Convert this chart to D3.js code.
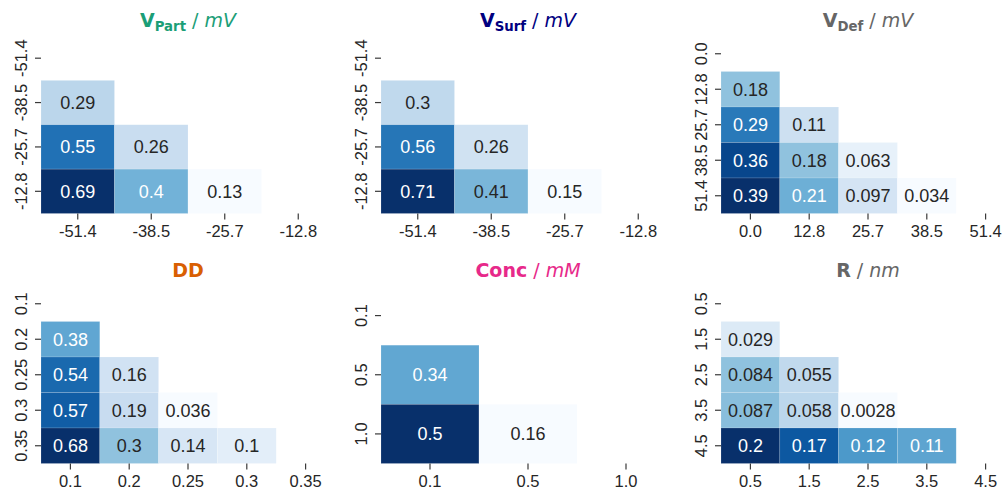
<!DOCTYPE html>
<html>
<head>
<meta charset="utf-8">
<script src="https://cdn.jsdelivr.net/npm/d3@7"></script>
<style>
  body { margin: 0; background: #fff; }
  svg { display: block; }
  text { white-space: pre; }
</style>
</head>
<body>
<div id="chart"></div>
<script>
// tick labels (same for rows and columns) and lower-triangle values, one row per label after the first
var vPartLabels = ["-51.4", "-38.5", "-25.7", "-12.8"];
var vPartValues = [[0.29], [0.55, 0.26], [0.69, 0.4, 0.13]];

var vSurfLabels = ["-51.4", "-38.5", "-25.7", "-12.8"];
var vSurfValues = [[0.3], [0.56, 0.26], [0.71, 0.41, 0.15]];

var vDefLabels = ["0.0", "12.8", "25.7", "38.5", "51.4"];
var vDefValues = [[0.18], [0.29, 0.11], [0.36, 0.18, 0.063], [0.39, 0.21, 0.097, 0.034]];

var ddLabels = ["0.1", "0.2", "0.25", "0.3", "0.35"];
var ddValues = [[0.38], [0.54, 0.16], [0.57, 0.19, 0.036], [0.68, 0.3, 0.14, 0.1]];

var concLabels = ["0.1", "0.5", "1.0"];
var concValues = [[0.34], [0.5, 0.16]];

var rLabels = ["0.5", "1.5", "2.5", "3.5", "4.5"];
var rValues = [[0.029], [0.084, 0.055], [0.087, 0.058, 0.0028], [0.2, 0.17, 0.12, 0.11]];

var panels = [
  { labels: vPartLabels, values: vPartValues, title: ["V", "Part", "mV"], color: "#1b9e77" },
  { labels: vSurfLabels, values: vSurfValues, title: ["V", "Surf", "mV"], color: "#000080" },
  { labels: vDefLabels, values: vDefValues, title: ["V", "Def", "mV"], color: "#666666" },
  { labels: ddLabels, values: ddValues, title: ["DD", null, null], color: "#d95f02" },
  { labels: concLabels, values: concValues, title: ["Conc", null, "mM"], color: "#e7298a" },
  { labels: rLabels, values: rValues, title: ["R", null, "nm"], color: "#666666" }
];

var width = 1005, height = 495;
var lefts = [41, 381, 721], tops = [36, 286];
var pw = 294, ph = 177.5;
var tickFont = "'Liberation Sans', Arial, sans-serif";
var titleFont = "'DejaVu Sans', sans-serif";

// matplotlib "Blues" is a straight linear ramp through these nine colours
var bluesStops = ["#f7fbff", "#deebf7", "#c6dbef", "#9ecae1", "#6baed6", "#4292c6", "#2171b5", "#08519c", "#08306b"];
var blues = d3.scaleLinear()
  .domain(d3.range(9).map(function(i){ return i / 8; }))
  .range(bluesStops)
  .interpolate(d3.interpolateRgb)
  .clamp(true);

function luminance(c) {
  var rgb = d3.rgb(c);
  var lin = [rgb.r, rgb.g, rgb.b].map(function(v){
    v = v / 255;
    return v <= 0.03928 ? v / 12.92 : Math.pow((v + 0.055) / 1.055, 2.4);
  });
  return 0.2126 * lin[0] + 0.7152 * lin[1] + 0.0722 * lin[2];
}

var svg = d3.select("#chart").append("svg")
  .attr("width", width)
  .attr("height", height);

panels.forEach(function(p, k) {
  var x0 = lefts[k % 3], y0 = tops[Math.floor(k / 3)];
  var g = svg.append("g").attr("transform", "translate(" + x0 + "," + y0 + ")");

  var x = d3.scaleBand().domain(p.labels).range([0, pw]);
  var y = d3.scaleBand().domain(p.labels).range([0, ph]);

  var cells = [];
  p.values.forEach(function(row, i) {
    row.forEach(function(v, j) {
      cells.push({ row: p.labels[i + 1], col: p.labels[j], v: v });
    });
  });
  var ext = d3.extent(cells, function(d){ return d.v; });
  var t = d3.scaleLinear().domain(ext).range([0, 1]);

  g.selectAll("rect.cell").data(cells).enter().append("rect")
    .attr("class", "cell")
    .attr("x", function(d){ return x(d.col); })
    .attr("y", function(d){ return y(d.row); })
    .attr("width", x.bandwidth())
    .attr("height", y.bandwidth())
    .attr("fill", function(d){ return blues(t(d.v)); })
    .attr("stroke", "rgba(255,255,255,0.25)")
    .attr("stroke-width", 0.6);

  g.selectAll("text.ann").data(cells).enter().append("text")
    .attr("class", "ann")
    .attr("x", function(d){ return x(d.col) + x.bandwidth() / 2; })
    .attr("y", function(d){ return y(d.row) + y.bandwidth() / 2; })
    .attr("dy", "0.36em")
    .attr("text-anchor", "middle")
    .attr("font-family", tickFont)
    .attr("font-size", 18)
    .attr("fill", function(d){ return luminance(blues(t(d.v))) > 0.408 ? "#262626" : "#ffffff"; })
    .text(function(d){ return String(d.v); });

  // x axis
  var xa = g.append("g").attr("transform", "translate(0," + ph + ")")
    .call(d3.axisBottom(x).tickSize(6).tickPadding(10));
  // y axis
  var ya = g.append("g").call(d3.axisLeft(y).tickSize(6));
  [xa, ya].forEach(function(a) {
    a.select(".domain").remove();
    a.selectAll(".tick line").attr("stroke", "#3a3a3a").attr("stroke-width", 1.2);
    a.selectAll(".tick text")
      .attr("font-family", tickFont)
      .attr("font-size", 16.5)
      .attr("fill", "#262626");
  });
  xa.selectAll(".tick text").attr("dy", "0.71em").attr("y", 12);
  ya.selectAll(".tick text")
    .attr("x", null).attr("dy", null)
    .attr("text-anchor", "middle")
    .attr("transform", "translate(-14,0) rotate(-90)");

  // title
  var title = g.append("text")
    .attr("x", pw / 2)
    .attr("y", -9.5)
    .attr("text-anchor", "middle")
    .attr("font-family", titleFont)
    .attr("font-size", 19)
    .attr("fill", p.color);
  var main = p.title[0], sub = p.title[1], unit = p.title[2];
  title.append("tspan").attr("font-weight", "bold").text(main);
  if (sub) {
    title.append("tspan").attr("font-weight", "bold").attr("font-size", 13.3)
      .attr("dy", 4).text(sub);
  }
  if (unit) {
    title.append("tspan").attr("dy", sub ? -4 : 0).text(" / ");
    title.append("tspan").attr("font-style", "italic").text(unit);
  }
});
</script>
</body>
</html>
